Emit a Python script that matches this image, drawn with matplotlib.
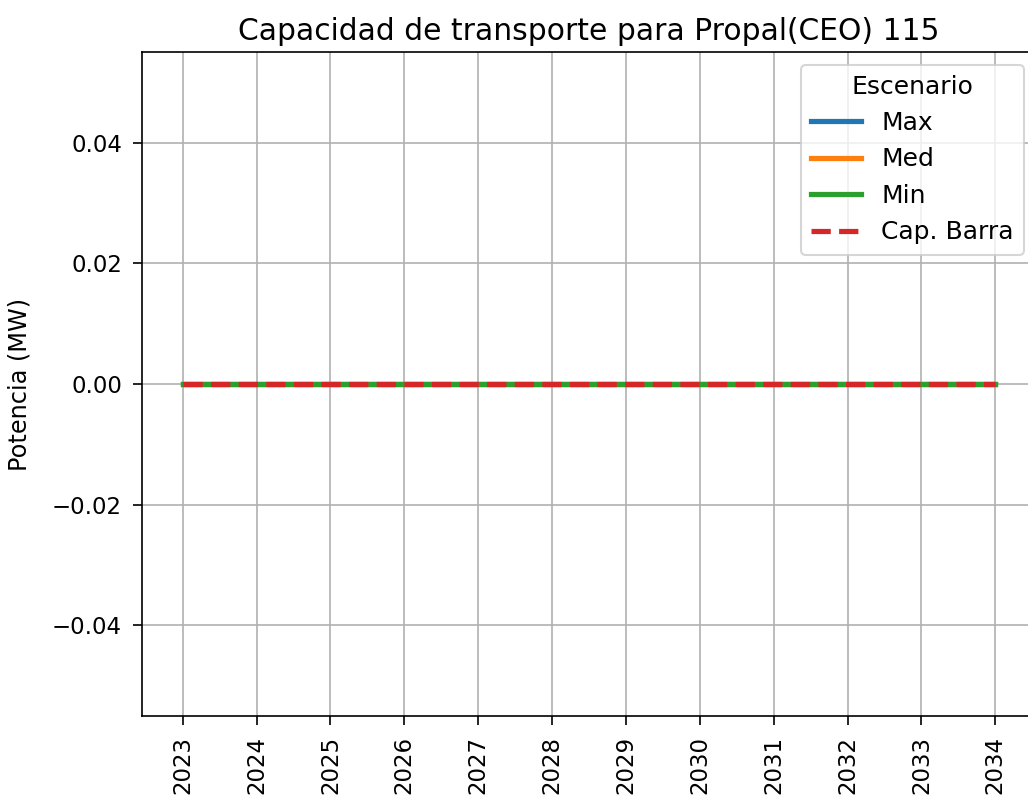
import numpy as np
import matplotlib
matplotlib.use('Agg')
import matplotlib.pyplot as plt

years = [2023, 2024, 2025, 2026, 2027, 2028, 2029, 2030, 2031, 2032, 2033, 2034]
pot_max = [0, 0, 0, 0, 0, 0, 0, 0, 0, 0, 0, 0]
pot_med = [0, 0, 0, 0, 0, 0, 0, 0, 0, 0, 0, 0]
pot_min = [0, 0, 0, 0, 0, 0, 0, 0, 0, 0, 0, 0]
cap_barra = [0, 0, 0, 0, 0, 0, 0, 0, 0, 0, 0, 0]

dpi = 150
fig = plt.figure(figsize=(1028 / dpi, 804 / dpi), dpi=dpi)
ax = fig.add_axes([142 / 1028, 1 - 716 / 804, (1036 - 142) / 1028, (716 - 52) / 804])

ax.plot(years, pot_max, label='Max', lw=2.5)
ax.plot(years, pot_med, label='Med', lw=2.5)
ax.plot(years, pot_min, label='Min', lw=2.5)
ax.plot(years, cap_barra, '--', color='tab:red', label='Cap. Barra', lw=2.5)

ax.set_xticks(years)
ax.set_xticklabels([str(y) for y in years], rotation=90)
ax.tick_params(labelsize=11, length=4.3, pad=5.3)
ax.set_ylabel('Potencia (MW)', fontsize=11.5, labelpad=10)
ax.set_title('Capacidad de transporte para Propal(CEO) 115', fontsize=14.3)
ax.grid(True)
ax.legend(title='Escenario', loc='upper right', fontsize=12, title_fontsize=12)

fig.savefig('out.png', dpi=dpi)
